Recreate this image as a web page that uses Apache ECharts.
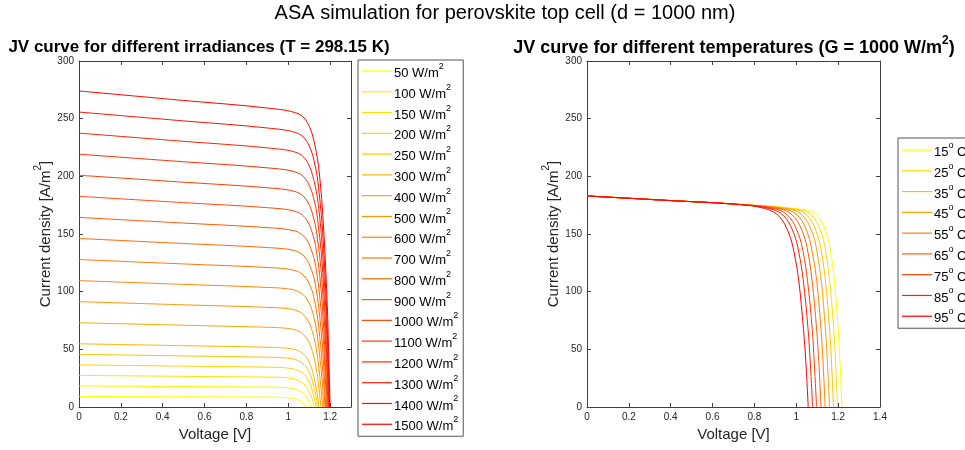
<!DOCTYPE html>
<html>
<head>
<meta charset="utf-8">
<script src="https://cdn.jsdelivr.net/npm/echarts@6/dist/echarts.min.js"></script>
<style>html,body{margin:0;padding:0;background:#fff}#c{width:965px;height:450px}</style>
</head>
<body>
<div id="c"></div>
<script>
// ---------- data ----------
const irrLabels = ['50','100','150','200','250','300','400','500','600','700','800','900','1000','1100','1200','1300','1400','1500'];
const irrV = [
  [0,0.5,0.9,0.940,0.989,1.022,1.039,1.055,1.072,1.080,1.088],
  [0,0.5,0.9,0.962,1.012,1.045,1.061,1.078,1.094,1.102,1.111],
  [0,0.5,0.9,0.976,1.025,1.058,1.075,1.091,1.108,1.116,1.124],
  [0,0.5,0.9,0.985,1.035,1.068,1.084,1.101,1.117,1.125,1.134],
  [0,0.5,0.9,0.992,1.042,1.075,1.091,1.108,1.124,1.133,1.141],
  [0,0.5,0.9,0.998,1.048,1.081,1.097,1.114,1.130,1.139,1.147],
  [0,0.5,0.9,1.008,1.057,1.090,1.107,1.123,1.140,1.148,1.156],
  [0,0.5,0.9,1.015,1.065,1.098,1.114,1.131,1.147,1.155,1.164],
  [0,0.5,0.9,1.021,1.071,1.104,1.120,1.137,1.153,1.162,1.170],
  [0,0.5,0.9,1.026,1.076,1.109,1.125,1.142,1.158,1.167,1.175],
  [0,0.5,0.9,1.031,1.080,1.113,1.130,1.146,1.163,1.171,1.179],
  [0,0.5,0.9,1.035,1.084,1.117,1.134,1.150,1.167,1.175,1.183],
  [0,0.5,0.9,1.038,1.088,1.121,1.137,1.154,1.170,1.178,1.187],
  [0,0.5,0.9,1.041,1.091,1.124,1.140,1.157,1.173,1.182,1.190],
  [0,0.5,0.9,1.044,1.094,1.127,1.143,1.160,1.176,1.184,1.193],
  [0,0.5,0.9,1.047,1.096,1.129,1.146,1.162,1.179,1.187,1.195],
  [0,0.5,0.9,1.049,1.099,1.132,1.148,1.165,1.181,1.189,1.198],
  [0,0.5,0.9,1.052,1.101,1.134,1.151,1.167,1.184,1.192,1.200]
];
const irrJ = [
  [9.13,8.86,8.64,8.52,8.16,7.42,6.66,5.41,3.37,1.89,0],
  [18.27,17.72,17.28,17.02,16.31,14.81,13.30,10.81,6.73,3.78,0],
  [27.4,26.58,25.92,25.51,24.44,22.20,19.93,16.20,10.08,5.66,0],
  [36.53,35.43,34.56,34.0,32.57,29.59,26.56,21.59,13.44,7.55,0],
  [45.67,44.3,43.2,42.48,40.69,36.96,33.19,26.98,16.79,9.43,0],
  [54.8,53.16,51.84,50.95,48.81,44.34,39.81,32.36,20.14,11.31,0],
  [73.07,70.88,69.12,67.9,65.05,59.09,53.05,43.13,26.83,15.08,0],
  [91.33,88.59,86.4,84.82,81.26,73.81,66.27,53.88,33.52,18.83,0],
  [109.6,106.31,103.68,101.76,97.49,88.55,79.50,64.63,40.21,22.59,0],
  [127.87,124.03,120.96,118.68,113.70,103.28,92.72,75.38,46.90,26.35,0],
  [146.13,141.75,138.24,135.59,129.90,117.99,105.93,86.12,53.58,30.10,0],
  [164.4,159.47,155.52,152.5,146.1,132.71,119.14,96.86,60.27,33.86,0],
  [182.67,177.19,172.81,169.41,162.3,147.42,132.35,107.6,66.95,37.61,0],
  [200.93,194.9,190.08,186.31,178.49,162.13,145.56,118.34,73.63,41.37,0],
  [219.2,212.62,207.36,203.2,194.68,176.83,158.76,129.07,80.31,45.12,0],
  [237.47,230.35,224.65,220.11,210.87,191.54,171.97,139.8,86.99,48.87,0],
  [255.73,248.06,241.92,237.0,227.05,206.23,185.16,150.53,93.66,52.62,0],
  [274,265.78,259.2,253.89,243.24,220.94,198.36,161.26,100.33,56.37,0]
];
const tempLabels = ['15','25','35','45','55','65','75','85','95'];
const tempV = [
  [0,0.4,0.7,1.058,1.112,1.147,1.165,1.183,1.200,1.209,1.218],
  [0,0.4,0.7,1.032,1.087,1.124,1.142,1.160,1.179,1.188,1.197],
  [0,0.4,0.7,1.007,1.064,1.102,1.121,1.140,1.159,1.1685,1.178],
  [0,0.4,0.7,0.983,1.041,1.081,1.100,1.120,1.139,1.149,1.159],
  [0,0.4,0.7,0.956,1.017,1.057,1.077,1.098,1.118,1.128,1.138],
  [0,0.4,0.7,0.931,0.993,1.035,1.056,1.076,1.097,1.108,1.118],
  [0,0.4,0.7,0.904,0.968,1.011,1.033,1.054,1.076,1.086,1.097],
  [0,0.4,0.7,0.880,0.946,0.990,1.012,1.034,1.056,1.067,1.078],
  [0,0.4,0.7,0.853,0.921,0.966,0.989,1.012,1.034,1.046,1.057]
];
const tempJ = [
  [183,178.97,175.96,170.4,163.3,148.4,133.2,108.3,67.4,37.9,0],
  [183,178.97,175.96,170.6,163.4,148.6,133.3,108.4,67.5,38.0,0],
  [183,178.97,175.96,170.8,163.6,148.7,133.5,108.5,67.6,38.0,0],
  [183,178.97,175.96,171.0,163.8,148.9,133.6,108.6,67.7,38.0,0],
  [183,178.97,175.96,171.2,164.0,149.1,133.8,108.8,67.8,38.1,0],
  [183,178.97,175.96,171.4,164.2,149.3,134.0,108.9,67.8,38.1,0],
  [183,178.97,175.96,171.6,164.4,149.4,134.1,109.0,67.9,38.2,0],
  [183,178.97,175.96,171.8,164.6,149.6,134.3,109.1,68.0,38.2,0],
  [183,178.97,175.96,172.0,164.8,149.8,134.4,109.3,68.1,38.3,0]
];
const mainTitle = 'ASA simulation for perovskite top cell (d = 1000 nm)';
const leftTitle = 'JV curve for different irradiances (T = 298.15 K)';
const rightTitleA = 'JV curve for different temperatures (G = 1000 W/m';
const xName = 'Voltage [V]';
const yNameA = 'Current density [A/m';

// ---------- styling ----------
const FONT = '"Liberation Sans", Arial, Helvetica, sans-serif';
const AX = '#404040';
function autumn(i, n) {
  const g = Math.round(255 * (1 - i / (n - 1)));
  return 'rgb(255,' + g + ',0)';
}
const supRich = {
  t: { fontSize: 13, fontFamily: FONT, color: '#000', lineHeight: 18, verticalAlign: 'bottom' },
  s: { fontSize: 9, fontFamily: FONT, color: '#000', lineHeight: 10, verticalAlign: 'top' }
};
const nameRich = {
  t: { fontSize: 15, fontFamily: FONT, color: '#262626', lineHeight: 20, verticalAlign: 'bottom' },
  s: { fontSize: 10, fontFamily: FONT, color: '#262626', lineHeight: 11, verticalAlign: 'top' }
};

function xAx(grid, max, bottom) {
  return {
    type: 'value', gridIndex: grid, min: 0, max: max, interval: 0.2,
    position: bottom ? 'bottom' : 'top',
    axisLine: { show: true, onZero: false, lineStyle: { color: AX, width: 1 } },
    axisTick: { show: true, inside: true, length: 4, lineStyle: { color: AX } },
    axisLabel: bottom ? { show: true, fontSize: 10, fontFamily: FONT, color: '#262626', margin: 5, showMaxLabel: max === 1.4 } : { show: false },
    splitLine: { show: false },
    name: bottom ? xName : '', nameLocation: 'middle', nameGap: 19,
    nameTextStyle: { fontSize: 15, fontFamily: FONT, color: '#262626' }
  };
}
function yAx(grid, left) {
  return {
    type: 'value', gridIndex: grid, min: 0, max: 300, interval: 50,
    position: left ? 'left' : 'right',
    axisLine: { show: true, onZero: false, lineStyle: { color: AX, width: 1 } },
    axisTick: { show: true, inside: true, length: 4, lineStyle: { color: AX } },
    axisLabel: left ? { show: true, fontSize: 10, fontFamily: FONT, color: '#262626', margin: 5 } : { show: false },
    splitLine: { show: false },
    name: left ? '{t|' + yNameA + '}{s|2}{t|]}' : '', nameLocation: 'middle', nameGap: 26, nameRotate: 90,
    nameTextStyle: { fontSize: 15, fontFamily: FONT, color: '#262626', rich: nameRich }
  };
}

const series = [];
irrLabels.forEach((g, i) => {
  series.push({
    name: g + ' W/m²', type: 'line', xAxisIndex: 0, yAxisIndex: 0,
    data: irrV[i].map((v, k) => [v, irrJ[i][k]]),
    symbol: 'none', smooth: 0.35, animation: false,
    lineStyle: { width: 1, color: autumn(i, irrLabels.length) },
    itemStyle: { color: autumn(i, irrLabels.length) }
  });
});
tempLabels.forEach((t, i) => {
  series.push({
    name: t + '° C', type: 'line', xAxisIndex: 2, yAxisIndex: 2,
    data: tempV[i].map((v, k) => [v, tempJ[i][k]]),
    symbol: 'none', smooth: 0.35, animation: false,
    lineStyle: { width: 1, color: autumn(i, tempLabels.length) },
    itemStyle: { color: autumn(i, tempLabels.length) }
  });
});

const legendBase = {
  orient: 'vertical', icon: 'rect', itemWidth: 30, itemHeight: 1.2, itemGap: 2.78,
  borderColor: '#555', borderWidth: 1, backgroundColor: '#fff',
  selectedMode: false,
  textStyle: { fontSize: 13, fontFamily: FONT, color: '#000', rich: supRich, padding: [0, 0, 0, -3] }
};

const chart = echarts.init(document.getElementById('c'), null, { renderer: 'canvas' });
chart.setOption({
  backgroundColor: '#fff',
  animation: false,
  grid: [
    { left: 79, top: 61, width: 272, height: 346 },
    { left: 587, top: 61, width: 293, height: 346 }
  ],
  xAxis: [xAx(0, 1.3, true), xAx(0, 1.3, false), xAx(1, 1.4, true), xAx(1, 1.4, false)],
  yAxis: [yAx(0, true), yAx(0, false), yAx(1, true), yAx(1, false)],
  legend: [
    Object.assign({}, legendBase, {
      left: 358, top: 60, padding: [2, 5, 3, 4],
      data: irrLabels.map(g => g + ' W/m²'),
      formatter: n => '{t|' + n.replace('²', '') + '}{s|2}'
    }),
    Object.assign({}, legendBase, {
      left: 898, top: 138, padding: [3, 30, 3, 4],
      data: tempLabels.map(t => t + '° C'),
      formatter: n => { const p = n.split('°'); return '{t|' + p[0] + '}{s|o}{t|' + p[1] + '}'; }
    })
  ],
  graphic: [
    { type: 'text', x: 505, y: 13, style: { text: mainTitle, fill: '#000', font: '20px ' + FONT, align: 'center', verticalAlign: 'middle' } },
    { type: 'text', x: 199, y: 47, style: { text: leftTitle, fill: '#000', font: 'bold 17px ' + FONT, align: 'center', verticalAlign: 'middle' } },
    { type: 'text', x: 734, y: 46, style: {
      text: '{t|' + rightTitleA + '}{s|2}{t|)}', align: 'center', verticalAlign: 'middle',
      rich: {
        t: { fontSize: 18, fontWeight: 'bold', fontFamily: FONT, fill: '#000', color: '#000', lineHeight: 22, verticalAlign: 'bottom' },
        s: { fontSize: 12, fontWeight: 'bold', fontFamily: FONT, fill: '#000', color: '#000', lineHeight: 12, verticalAlign: 'top' }
      }
    } }
  ],
  series: series
});
</script>
</body>
</html>
